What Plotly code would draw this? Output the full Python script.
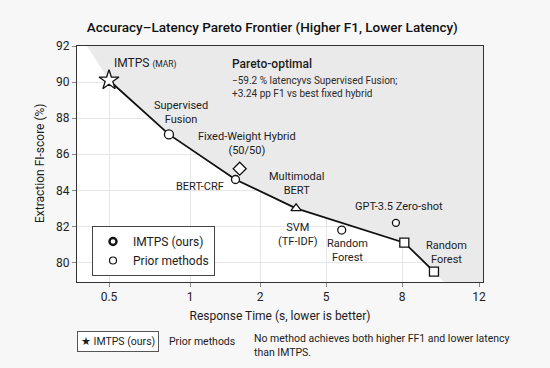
import numpy as np
import plotly.graph_objects as go

# ---- data ----
tick_seconds = [0.5, 1, 2, 5, 8, 12]
tick_labels = ["0.5", "1", "2", "5", "8", "12"]
y_ticks = [80, 82, 84, 86, 88, 90, 92]

methods = ["IMTPS", "Supervised Fusion", "Fixed-Weight Hybrid (50/50)", "BERT-CRF",
           "Multimodal BERT", "Random Forest", "GPT-3.5 Zero-shot", "SVM", "Random Forest (B)"]
latency_s = [0.5, 0.87, 1.71, 1.65, 3.64, 5.62, 7.76, 8.12, 9.66]
f1_score = [90.1, 87.1, 85.2, 84.6, 83.0, 81.8, 82.2, 81.1, 79.5]
frontier_idx = [0, 1, 3, 4, 7, 8]

# ---- axis mapping (non-uniform tick spacing used by the original) ----
tick_axis = [32, 113, 183, 249, 325, 402]
X_RANGE = [0, 406]
Y_RANGE = [78.92, 92]


def xmap(s):
    return np.interp(s, tick_seconds, tick_axis)


xs = xmap(np.array(latency_s))
ys = np.array(f1_score)

FONT = "Roboto, Arial, sans-serif"
INK = "#1c1c1c"

fig = go.Figure()

# shaded dominated region above/right of frontier
fx = [10] + [xs[i] for i in frontier_idx] + [xs[8] + 10, X_RANGE[1], X_RANGE[1], 10]
fy = [Y_RANGE[1]] + [ys[i] for i in frontier_idx] + [Y_RANGE[0], Y_RANGE[0], Y_RANGE[1], Y_RANGE[1]]
fig.add_trace(go.Scatter(x=fx, y=fy, fill="toself", fillcolor="#eaeaea", mode="none",
                         hoverinfo="skip", showlegend=False))

# frontier line
fig.add_trace(go.Scatter(x=[xs[i] for i in frontier_idx], y=[ys[i] for i in frontier_idx],
                         mode="lines", line=dict(color="#111", width=1.8),
                         showlegend=False, hoverinfo="skip"))

symbols = ["star", "circle", "diamond", "circle", "triangle-up", "circle", "circle", "square", "square"]
sizes = [15, 9, 10, 8, 9, 8, 7, 9, 9]
fig.add_trace(go.Scatter(x=xs, y=ys, mode="markers", text=methods,
                         marker=dict(symbol=symbols, size=sizes, color="#ffffff", opacity=1,
                                     line=dict(color="#111", width=1.3)),
                         showlegend=False))

# in-plot legend entries
fig.add_trace(go.Scatter(x=[None], y=[None], mode="markers", name="IMTPS (ours)",
                         marker=dict(symbol="circle", size=7, color="white",
                                     line=dict(color="#111", width=2.4))))
fig.add_trace(go.Scatter(x=[None], y=[None], mode="markers", name="Prior methods",
                         marker=dict(symbol="circle", size=7, color="white",
                                     line=dict(color="#111", width=1.2))))

# point labels (offsets in px)
labels = [
    (0, "IMTPS <span style='font-size:8.5px'>(MAR)</span>", 36, 17),
    (1, "Supervised<br>Fusion", 12, 22),
    (2, "Fixed-Weight Hybrid<br>(50/50)", 7, 25),
    (3, "BERT-CRF", -36, -7),
    (4, "Multimodal<br>BERT", 0, 25),
    (4, "SVM<br>(TF-IDF)", 2, -26),
    (5, "Random<br>Forest", 6, -20),
    (6, "GPT-3.5 Zero-shot", 3, 16),
    (8, "Random<br>Forest", 13, 19),
]
for i, txt, dx, dy in labels:
    size = 12 if i == 0 else 11
    fig.add_annotation(x=xs[i], y=ys[i], text=txt, showarrow=False, xshift=dx, yshift=dy,
                       font=dict(family=FONT, size=size, color=INK), align="center")

W, H = 550, 368
L, R, T, B = 77, 483, 46, 282


def px(xp):
    return (xp - L) / (R - L)


def py(yp):
    return (B - yp) / (B - T)


fig.add_annotation(xref="paper", yref="paper", x=px(230), y=py(64), xanchor="left", yanchor="middle",
                   text="Pareto-optimal", showarrow=False,
                   font=dict(family=FONT, size=12, color=INK, weight=500))
fig.add_annotation(xref="paper", yref="paper", x=px(230), y=py(87), xanchor="left", yanchor="middle",
                   text="−59.2 % latencyvs Supervised Fusion;<br>+3.24 pp F1 vs best fixed hybrid",
                   showarrow=False, align="left",
                   font=dict(family=FONT, size=10, color="#2a2a2a"))

# y-axis title (placed explicitly)
fig.add_annotation(xref="paper", yref="paper", x=px(40), y=py(163), xanchor="center", yanchor="middle",
                   text="Extraction FI-score (%)", textangle=-90, showarrow=False,
                   font=dict(family=FONT, size=12, color=INK))

# bottom key row
fig.add_annotation(xref="paper", yref="paper", x=px(77), y=py(341), xanchor="left", yanchor="middle",
                   text="★ IMTPS (ours)", showarrow=False, bordercolor="#555", borderwidth=1,
                   borderpad=3, bgcolor="white", font=dict(family=FONT, size=10.5, color=INK))
fig.add_annotation(xref="paper", yref="paper", x=px(167), y=py(341), xanchor="left", yanchor="middle",
                   text="Prior methods", showarrow=False, font=dict(family=FONT, size=10.5, color=INK))
fig.add_annotation(xref="paper", yref="paper", x=px(252), y=py(345), xanchor="left", yanchor="middle",
                   text="No method achieves both higher FF1 and lower latency<br>than IMTPS.",
                   showarrow=False, align="left", font=dict(family=FONT, size=10.5, color=INK))

fig.update_layout(
    width=W, height=H,
    margin=dict(l=L, r=W - R, t=T, b=H - B),
    paper_bgcolor="#f7f7f7", plot_bgcolor="white",
    title=dict(text="Accuracy–Latency Pareto Frontier (Higher F1, Lower Latency)",
               x=0.495, xanchor="center", y=1 - 27 / H, yanchor="middle",
               font=dict(family=FONT, size=13.5, color="#111", weight=500)),
    font=dict(family=FONT, size=12, color=INK),
    legend=dict(x=px(92), y=py(226), xanchor="left", yanchor="top",
                bgcolor="white", bordercolor="#444", borderwidth=1,
                font=dict(family=FONT, size=12, color=INK), tracegroupgap=2),
    xaxis=dict(range=X_RANGE, tickvals=tick_axis, ticktext=tick_labels,
               showgrid=True, gridcolor="#e6e6e6", zeroline=False,
               showline=True, linecolor="#333", linewidth=1, mirror=True,
               ticks="outside", ticklen=4, tickcolor="#888",
               tickfont=dict(size=12, color="#222"),
               title=dict(text="Response Time (s, lower is better)", standoff=8,
                          font=dict(size=12, color=INK))),
    yaxis=dict(range=Y_RANGE, tickvals=y_ticks,
               showgrid=True, gridcolor="#e6e6e6", zeroline=False,
               showline=True, linecolor="#333", linewidth=1, mirror=True,
               ticks="outside", ticklen=4, tickcolor="#888",
               tickfont=dict(size=12, color="#222")),
)

fig.write_html("out.html", config={"displayModeBar": False},
               post_script="document.body.style.margin='0';document.body.style.background='#f7f7f7';")
